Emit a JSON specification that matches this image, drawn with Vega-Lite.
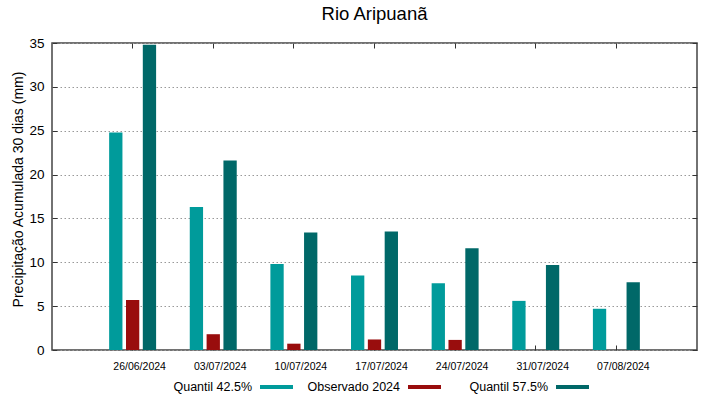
{
  "$schema": "https://vega.github.io/schema/vega-lite/v6.json",
  "width": 645,
  "height": 307,
  "autosize": {"type": "none"},
  "padding": {"left": 52, "top": 43, "right": 22, "bottom": 49},
  "background": "white",
  "config": {
    "font": "Liberation Sans",
    "view": {"stroke": "#444", "strokeWidth": 1.5},
    "axis": {"domain": false},
    "legend": {
      "title": null,
      "orient": "none",
      "direction": "horizontal",
      "padding": 0,
      "symbolType": "M-1,-0.12 L1,-0.12 L1,0.12 L-1,0.12 Z",
      "symbolSize": 1089,
      "symbolStrokeWidth": 0,
      "labelFontSize": 12.5,
      "labelColor": "#000",
      "labelAlign": "right",
      "labelOffset": -41,
      "labelLimit": 300
    }
  },
  "title": {
    "text": "Rio Aripuanã",
    "fontSize": 18.5,
    "fontWeight": "normal",
    "color": "#000",
    "frame": "group",
    "offset": 12.5
  },
  "data": {
    "values": [
      {"date": "26/06/2024", "serie": "Quantil 42.5%", "value": 24.8},
      {"date": "26/06/2024", "serie": "Observado 2024", "value": 5.7},
      {"date": "26/06/2024", "serie": "Quantil 57.5%", "value": 34.8},
      {"date": "03/07/2024", "serie": "Quantil 42.5%", "value": 16.3},
      {"date": "03/07/2024", "serie": "Observado 2024", "value": 1.8},
      {"date": "03/07/2024", "serie": "Quantil 57.5%", "value": 21.6},
      {"date": "10/07/2024", "serie": "Quantil 42.5%", "value": 9.8},
      {"date": "10/07/2024", "serie": "Observado 2024", "value": 0.72},
      {"date": "10/07/2024", "serie": "Quantil 57.5%", "value": 13.4},
      {"date": "17/07/2024", "serie": "Quantil 42.5%", "value": 8.5},
      {"date": "17/07/2024", "serie": "Observado 2024", "value": 1.2},
      {"date": "17/07/2024", "serie": "Quantil 57.5%", "value": 13.5},
      {"date": "24/07/2024", "serie": "Quantil 42.5%", "value": 7.6},
      {"date": "24/07/2024", "serie": "Observado 2024", "value": 1.15},
      {"date": "24/07/2024", "serie": "Quantil 57.5%", "value": 11.6},
      {"date": "31/07/2024", "serie": "Quantil 42.5%", "value": 5.6},
      {"date": "31/07/2024", "serie": "Observado 2024", "value": 0},
      {"date": "31/07/2024", "serie": "Quantil 57.5%", "value": 9.7},
      {"date": "07/08/2024", "serie": "Quantil 42.5%", "value": 4.7},
      {"date": "07/08/2024", "serie": "Observado 2024", "value": 0},
      {"date": "07/08/2024", "serie": "Quantil 57.5%", "value": 7.72}
    ]
  },
  "layer": [
    {
      "transform": [{"filter": "datum.serie === 'Quantil 42.5%'"}],
      "mark": {"type": "bar"},
      "encoding": {
        "x": {
          "field": "date",
          "type": "ordinal",
          "sort": null,
          "scale": {"paddingInner": 0, "paddingOuter": 0.5},
          "axis": {
            "title": null,
            "labelAngle": 0,
            "labelFontSize": 10.5,
            "labelColor": "#000",
            "labelOffset": 7,
            "labelPadding": 16.5,
            "tickSize": -5,
            "tickColor": "#333",
            "grid": false
          }
        },
        "xOffset": {
          "field": "serie",
          "scale": {
            "domain": ["Quantil 42.5%", "Observado 2024", "Quantil 57.5%"],
            "paddingInner": 0.21,
            "paddingOuter": 1.05
          }
        },
        "y": {
          "field": "value",
          "type": "quantitative",
          "scale": {"domain": [0, 35], "nice": false},
          "axis": {
            "title": "Precipitação Acumulada 30 dias (mm)",
            "titleFontSize": 14,
            "titleFontWeight": "normal",
            "titleColor": "#000",
            "titleX": -34,
            "titleY": 146,
            "titleBaseline": "middle",
            "values": [0, 5, 10, 15, 20, 25, 30, 35],
            "labelFontSize": 13.5,
            "labelColor": "#000",
            "labelPadding": 13,
            "tickSize": -5,
            "tickColor": "#333",
            "grid": true,
            "gridColor": "#999",
            "gridDash": [1.5, 2.5],
            "gridWidth": 1
          }
        },
        "color": {
          "field": "serie",
          "type": "nominal",
          "scale": {"range": ["#009b9b"]},
          "legend": {"legendX": 208, "legendY": 327.5}
        }
      }
    },
    {
      "transform": [{"filter": "datum.serie === 'Observado 2024'"}],
      "mark": {"type": "bar"},
      "encoding": {
        "x": {"field": "date", "type": "ordinal", "sort": null, "axis": null},
        "xOffset": {"field": "serie"},
        "y": {"field": "value", "type": "quantitative", "axis": null},
        "fill": {
          "field": "serie",
          "type": "nominal",
          "scale": {"range": ["#990d0d"]},
          "legend": {"legendX": 356, "legendY": 327.5}
        }
      }
    },
    {
      "transform": [{"filter": "datum.serie === 'Quantil 57.5%'"}],
      "mark": {"type": "bar"},
      "encoding": {
        "x": {"field": "date", "type": "ordinal", "sort": null, "axis": null},
        "xOffset": {"field": "serie"},
        "y": {"field": "value", "type": "quantitative", "axis": null},
        "stroke": {
          "field": "serie",
          "type": "nominal",
          "scale": {"range": ["#006868"]},
          "legend": {"legendX": 504, "legendY": 327.5, "symbolFillColor": "#006868"}
        },
        "fill": {"value": "#006868"},
        "strokeWidth": {"value": 0}
      }
    },
    {
      "mark": {"type": "point", "opacity": 0},
      "encoding": {
        "x": {
          "field": "date",
          "type": "ordinal",
          "sort": null,
          "axis": {"orient": "top", "title": null, "labels": false, "tickSize": -5, "tickColor": "#333", "grid": false}
        },
        "y": {
          "field": "value",
          "type": "quantitative",
          "axis": {"orient": "right", "title": null, "labels": false, "values": [0, 5, 10, 15, 20, 25, 30, 35], "tickSize": -5, "tickColor": "#333", "grid": false}
        }
      }
    }
  ],
  "resolve": {"axis": {"x": "independent", "y": "independent"}, "scale": {"color": "independent", "fill": "independent", "stroke": "independent"}}
}
